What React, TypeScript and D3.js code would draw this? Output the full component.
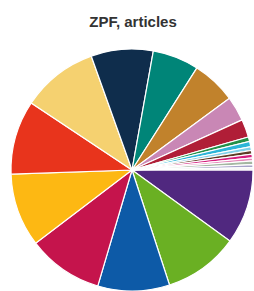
import * as d3 from "d3";

const categories = [
  "A", "B", "C", "D", "E", "F", "G", "H", "I", "J", "K",
  "L", "M", "N", "O", "P", "Q", "R", "S", "T", "U",
];
const articles = [
  100, 100, 96, 101, 98, 99, 102, 83, 62, 59, 33,
  24, 6, 7, 5, 5, 5, 4, 5, 4, 3,
];
const colors = [
  "#50287f", "#6ab023", "#0d5aa7", "#c5144c", "#fdb813", "#e8341c",
  "#f5d170", "#0f2d4c", "#008578", "#c1822c", "#c987b5", "#b01e37",
  "#239048", "#2cb5d8", "#7fcfe8", "#5c3b24", "#d51c7d", "#e587b9",
  "#a4b7a2", "#a6a3c8", "#f0f0f0",
];

const width = 254;
const height = 291;
const cx = 132;
const cy = 170;
const radius = 121;

type Slice = { name: string; value: number; color: string };

const App = () => {
  const data: Slice[] = categories.map((name, i) => ({
    name,
    value: articles[i],
    color: colors[i],
  }));

  const pie = d3
    .pie<Slice>()
    .sort(null)
    .value((d) => d.value)
    .startAngle(Math.PI / 2)
    .endAngle(Math.PI / 2 + Math.PI * 2);

  const arc = d3.arc<d3.PieArcDatum<Slice>>().innerRadius(0).outerRadius(radius);

  return (
    <svg
      width={width}
      height={height}
      style={{ position: "absolute", left: 0, top: 0 }}
    >
      <rect width={width} height={height} fill="#ffffff" />
      <text
        x={133}
        y={27}
        textAnchor="middle"
        fontFamily="'Liberation Sans', Arial, sans-serif"
        fontWeight="bold"
        fontSize={15}
        fill="#333333"
      >
        ZPF, articles
      </text>
      <g transform={`translate(${cx},${cy})`}>
        {pie(data).map((d, i) => (
          <path
            key={i}
            d={arc(d) || ""}
            fill={d.data.color}
            stroke="#ffffff"
            strokeWidth={1.2}
          />
        ))}
      </g>
    </svg>
  );
};

export default App;
